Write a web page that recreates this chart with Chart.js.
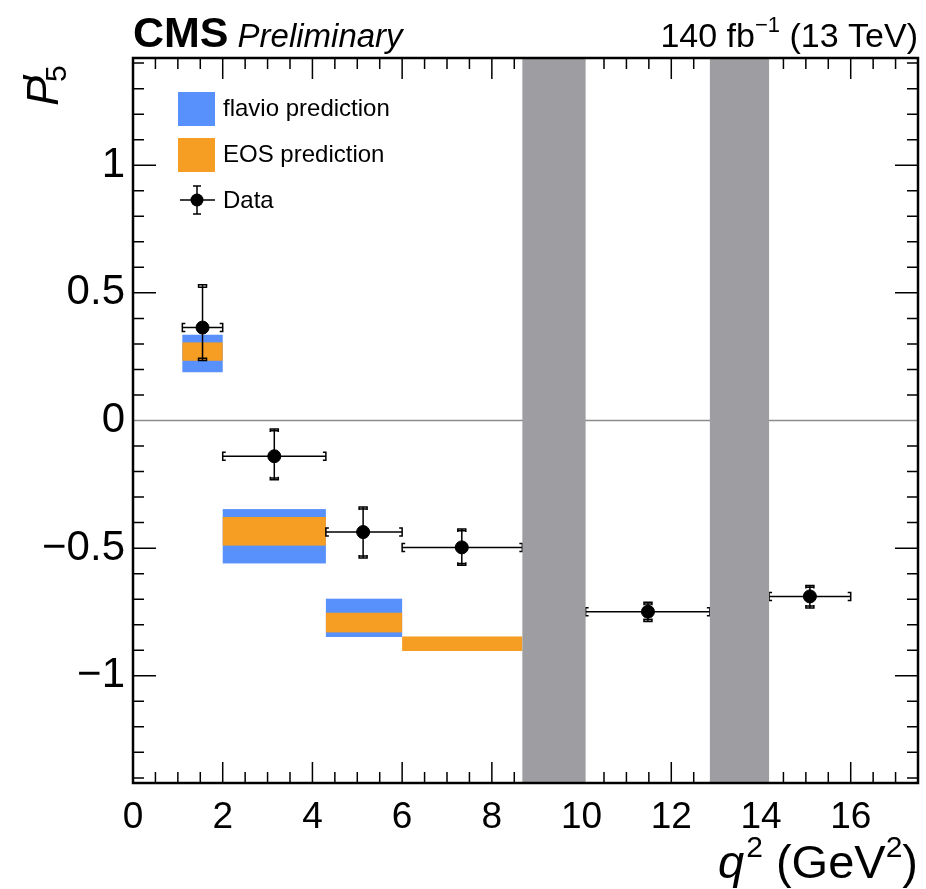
<!DOCTYPE html>
<html>
<head>
<meta charset="utf-8">
<script src="https://cdn.jsdelivr.net/npm/chart.js@4"></script>
<style>
  html, body { margin: 0; padding: 0; background: #fff; }
  #wrap { width: 926px; height: 889px; }
</style>
</head>
<body>
<div id="wrap"><canvas id="p5Chart" width="926" height="889"></canvas></div>
<script>
// q2 bins
const binLow = [1.1, 2, 4.3, 6, 10.09, 14.18];
const binHigh = [2, 4.3, 6, 8.68, 12.86, 16];

// measured P5'
const dataX = [1.55, 3.15, 5.13, 7.33, 11.48, 15.09];
const dataY = [0.364, -0.14, -0.437, -0.497, -0.749, -0.689];
const errUp = [0.168, 0.107, 0.098, 0.072, 0.037, 0.043];
const errDown = [0.129, 0.092, 0.102, 0.07, 0.038, 0.045];
const statUp = [0.158, 0.1, 0.09, 0.065, 0.03, 0.036];
const statDown = [0.12, 0.085, 0.094, 0.063, 0.031, 0.038];

// SM predictions (band low / high), null = not shown
const flavioLow = [0.189, -0.56, -0.848, null, null, null];
const flavioHigh = [0.336, -0.347, -0.698, null, null, null];
const eosLow = [0.234, -0.49, -0.83, -0.903, null, null];
const eosHigh = [0.306, -0.378, -0.753, -0.846, null, null];

// charmonium veto regions
const vetoLow = [8.68, 12.86];
const vetoHigh = [10.09, 14.18];

const xTickLabels = [0, 2, 4, 6, 8, 10, 12, 14, 16];
const yTickLabels = [-1, -0.5, 0, 0.5, 1];

const FLAVIO = '#5891fb';
const EOS = '#f69d24';
const VETO = '#9e9da2';
const FONT = '"Liberation Sans", Arial, Helvetica, sans-serif';

const decor = {
  id: 'decor',
  beforeDatasetsDraw(chart) {
    const { ctx, scales: { x, y } } = chart;
    ctx.save();
    const box = (lo, hi, x1, x2, color) => {
      const px1 = x.getPixelForValue(x1), px2 = x.getPixelForValue(x2);
      const py1 = y.getPixelForValue(hi), py2 = y.getPixelForValue(lo);
      ctx.fillStyle = color;
      ctx.fillRect(px1, py1, px2 - px1, py2 - py1);
    };
    binLow.forEach((b, i) => {
      if (flavioLow[i] !== null) box(flavioLow[i], flavioHigh[i], b, binHigh[i], FLAVIO);
      if (eosLow[i] !== null) box(eosLow[i], eosHigh[i], b, binHigh[i], EOS);
    });

    // error bars
    ctx.strokeStyle = '#000';
    ctx.lineWidth = 1.5;
    dataX.forEach((vx, i) => {
      const px = x.getPixelForValue(vx), py = y.getPixelForValue(dataY[i]);
      const xl = x.getPixelForValue(binLow[i]), xr = x.getPixelForValue(binHigh[i]);
      const yt = y.getPixelForValue(dataY[i] + errUp[i]);
      const yb = y.getPixelForValue(dataY[i] - errDown[i]);
      const st = y.getPixelForValue(dataY[i] + statUp[i]);
      const sb = y.getPixelForValue(dataY[i] - statDown[i]);
      ctx.beginPath();
      ctx.moveTo(xl, py); ctx.lineTo(xr, py);
      ctx.moveTo(px, yt); ctx.lineTo(px, yb);
      // bracket ends, horizontal
      ctx.moveTo(xl + 3, py - 4); ctx.lineTo(xl, py - 4); ctx.lineTo(xl, py + 4); ctx.lineTo(xl + 3, py + 4);
      ctx.moveTo(xr - 3, py - 4); ctx.lineTo(xr, py - 4); ctx.lineTo(xr, py + 4); ctx.lineTo(xr - 3, py + 4);
      // bracket ends, vertical
      ctx.moveTo(px - 4, yt + 3); ctx.lineTo(px - 4, yt); ctx.lineTo(px + 4, yt); ctx.lineTo(px + 4, yt + 3);
      ctx.moveTo(px - 4, yb - 3); ctx.lineTo(px - 4, yb); ctx.lineTo(px + 4, yb); ctx.lineTo(px + 4, yb - 3);
      // stat caps
      ctx.moveTo(px - 4, st); ctx.lineTo(px + 4, st);
      ctx.moveTo(px - 4, sb); ctx.lineTo(px + 4, sb);
      ctx.stroke();
    });
    ctx.restore();
  },
  afterDatasetsDraw(chart) {
    const { ctx, chartArea: a, scales: { x, y } } = chart;
    ctx.save();

    // inward ticks on all four sides
    ctx.strokeStyle = '#000';
    ctx.lineWidth = 1.5;
    ctx.beginPath();
    for (let i = 0; i <= 35; i++) {
      const v = i * 0.5;
      const px = x.getPixelForValue(v);
      const len = (i % 4 === 0) ? 21 : 11;
      ctx.moveTo(px, a.bottom); ctx.lineTo(px, a.bottom - len);
      ctx.moveTo(px, a.top); ctx.lineTo(px, a.top + len);
    }
    for (let i = -14; i <= 14; i++) {
      if (i === 0) continue;
      const py = y.getPixelForValue(i / 10);
      const len = (i % 5 === 0) ? 23 : 11;
      ctx.moveTo(a.left, py); ctx.lineTo(a.left + len, py);
      ctx.moveTo(a.right, py); ctx.lineTo(a.right - len, py);
    }
    ctx.stroke();

    // veto bands
    ctx.fillStyle = VETO;
    vetoLow.forEach((lo, i) => {
      const p1 = x.getPixelForValue(lo), p2 = x.getPixelForValue(vetoHigh[i]);
      ctx.fillRect(p1, a.top, p2 - p1, a.bottom - a.top);
    });

    // frame
    ctx.lineWidth = 2.5;
    ctx.strokeRect(a.left, a.top, a.right - a.left, a.bottom - a.top);

    // legend
    ctx.fillStyle = FLAVIO;
    ctx.fillRect(178, 92, 37, 34);
    ctx.fillStyle = EOS;
    ctx.fillRect(178, 138, 37, 34);
    ctx.strokeStyle = '#000';
    ctx.lineWidth = 1.5;
    ctx.beginPath();
    ctx.moveTo(180, 200); ctx.lineTo(215, 200);
    ctx.moveTo(197, 186); ctx.lineTo(197, 214);
    ctx.moveTo(193, 186); ctx.lineTo(201, 186);
    ctx.moveTo(193, 214); ctx.lineTo(201, 214);
    ctx.stroke();
    ctx.fillStyle = '#000';
    ctx.beginPath();
    ctx.arc(197, 200, 6.5, 0, Math.PI * 2);
    ctx.fill();
    ctx.font = '24px ' + FONT;
    ctx.textBaseline = 'middle';
    ctx.fillText('flavio prediction', 223, 109);
    ctx.fillText('EOS prediction', 223, 155);
    ctx.fillText('Data', 223, 201);

    // header
    ctx.textBaseline = 'alphabetic';
    ctx.font = 'bold 43px ' + FONT;
    ctx.fillText('CMS', 133, 47);
    const cmsW = ctx.measureText('CMS').width;
    ctx.font = 'italic 33px ' + FONT;
    ctx.fillText('Preliminary', 133 + cmsW + 9, 47);

    ctx.textAlign = 'right';
    ctx.font = '34px ' + FONT;
    ctx.fillText(' (13 TeV)', 918, 47);
    let rx = 918 - ctx.measureText(' (13 TeV)').width;
    ctx.font = '22px ' + FONT;
    ctx.fillText('\u22121', rx, 32);
    rx -= ctx.measureText('\u22121').width;
    ctx.font = '34px ' + FONT;
    ctx.fillText('140 fb', rx, 47);

    // x title
    ctx.font = '47px ' + FONT;
    ctx.fillText(')', 918, 878);
    rx = 918 - ctx.measureText(')').width;
    ctx.font = '30px ' + FONT;
    ctx.fillText('2', rx, 857);
    rx -= ctx.measureText('2').width;
    ctx.font = '47px ' + FONT;
    ctx.fillText(' (GeV', rx, 878);
    rx -= ctx.measureText(' (GeV').width;
    ctx.font = '30px ' + FONT;
    ctx.fillText('2', rx, 857);
    rx -= ctx.measureText('2').width + 2;
    ctx.font = 'italic 47px ' + FONT;
    ctx.fillText('q', rx, 878);

    // y title
    ctx.textAlign = 'left';
    ctx.translate(58, 106);
    ctx.rotate(-Math.PI / 2);
    ctx.font = 'italic 45px ' + FONT;
    ctx.fillText('P', 0, 0);
    const pW = ctx.measureText('P').width;
    ctx.font = '45px ' + FONT;
    ctx.fillText('\u2032', pW - 6, -4);
    ctx.font = '30px ' + FONT;
    ctx.fillText('5', pW - 6, 8);
    ctx.restore();
  }
};

const ctx = document.getElementById('p5Chart');
new Chart(ctx, {
  type: 'scatter',
  data: {
    datasets: [
      {
        type: 'line',
        label: 'zero',
        data: [{ x: 0, y: 0 }, { x: 17.5, y: 0 }],
        borderColor: '#8c8c8c',
        borderWidth: 1.5,
        pointRadius: 0
      },
      {
        label: 'Data',
        data: dataX.map((v, i) => ({ x: v, y: dataY[i] })),
        backgroundColor: '#000',
        borderColor: '#000',
        pointRadius: 6.5,
        pointHoverRadius: 6.5
      }
    ]
  },
  options: {
    responsive: false,
    animation: false,
    events: [],
    layout: { padding: { top: 58, right: 8, left: 0, bottom: 0 } },
    plugins: { legend: { display: false }, tooltip: { enabled: false } },
    scales: {
      x: {
        type: 'linear',
        min: 0,
        max: 17.5,
        grid: { display: false, drawTicks: false },
        border: { display: false },
        afterBuildTicks: s => { s.ticks = xTickLabels.map(v => ({ value: v })); },
        afterFit: s => { s.height = 106; },
        ticks: {
          autoSkip: false,
          maxRotation: 0,
          padding: 13,
          color: '#000',
          font: { family: FONT, size: 37 },
          callback: v => String(v)
        }
      },
      y: {
        min: -1.42,
        max: 1.42,
        grid: { display: false, drawTicks: false },
        border: { display: false },
        afterBuildTicks: s => { s.ticks = yTickLabels.map(v => ({ value: v })); },
        afterFit: s => { s.width = 133; },
        ticks: {
          autoSkip: false,
          padding: 8,
          color: '#000',
          font: { family: FONT, size: 42 },
          callback: v => String(v).replace('-', '\u2212')
        }
      }
    }
  },
  plugins: [decor]
});
</script>
</body>
</html>
